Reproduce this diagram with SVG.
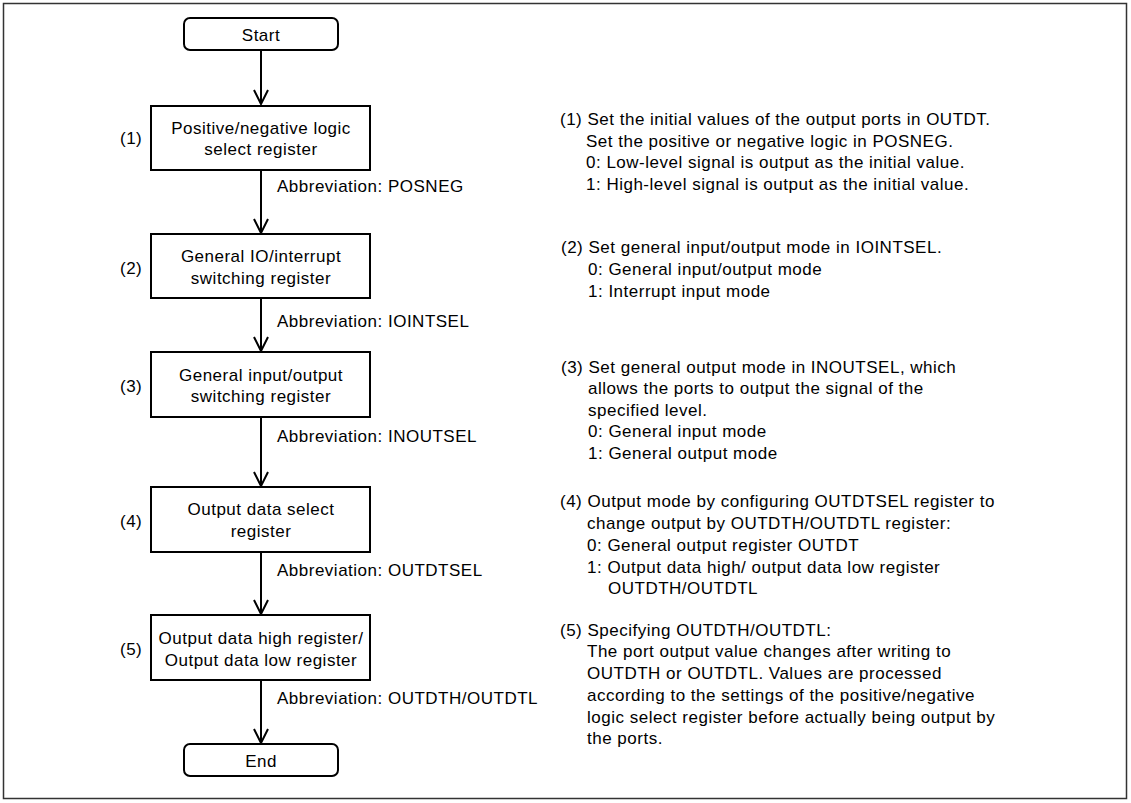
<svg xmlns="http://www.w3.org/2000/svg" width="1131" height="803" viewBox="0 0 1131 803">
  <defs>
    <style>
      text { font-family: "Liberation Sans", Arial, sans-serif; font-size: 17px; letter-spacing: 0.5px; fill: #000; }
      .c { text-anchor: middle; }
      .box { fill: #fff; stroke: #000; stroke-width: 2; }
      .wire { fill: none; stroke: #000; stroke-width: 2; }
      .frame { fill: #fff; stroke: #333; stroke-width: 1.5; }
    </style>
    <marker id="chev" viewBox="0 0 16 16" refX="15" refY="8" markerWidth="16" markerHeight="16" markerUnits="userSpaceOnUse" orient="auto">
      <path d="M1,1 L15,8 L1,15" fill="none" stroke="#000" stroke-width="2"/>
    </marker>
  </defs>

  <rect class="frame" x="3.5" y="3.5" width="1123" height="795"/>

  <!-- connectors -->
  <g id="connectors">
    <line class="wire" x1="261" y1="50" x2="261" y2="104" marker-end="url(#chev)"/>
    <line class="wire" x1="261" y1="170" x2="261" y2="233" marker-end="url(#chev)"/>
    <line class="wire" x1="261" y1="298" x2="261" y2="351" marker-end="url(#chev)"/>
    <line class="wire" x1="261" y1="417" x2="261" y2="486" marker-end="url(#chev)"/>
    <line class="wire" x1="261" y1="552" x2="261" y2="614" marker-end="url(#chev)"/>
    <line class="wire" x1="261" y1="680" x2="261" y2="743" marker-end="url(#chev)"/>
    <text x="277" y="192">Abbreviation: POSNEG</text>
    <text x="277" y="327">Abbreviation: IOINTSEL</text>
    <text x="277" y="442">Abbreviation: INOUTSEL</text>
    <text x="277" y="576">Abbreviation: OUTDTSEL</text>
    <text x="277" y="704">Abbreviation: OUTDTH/OUTDTL</text>
  </g>

  <g id="start">
    <rect class="box" x="184" y="18" width="154" height="32" rx="6"/>
    <text class="c" x="261" y="41">Start</text>
  </g>

  <g id="posneg">
    <rect class="box" x="151" y="106" width="219" height="64"/>
    <text class="c" x="261" y="134">Positive/negative logic</text>
    <text class="c" x="261" y="155">select register</text>
    <text x="120" y="144">(1)</text>
  </g>

  <g id="iointsel">
    <rect class="box" x="151" y="234" width="219" height="64"/>
    <text class="c" x="261" y="262">General IO/interrupt</text>
    <text class="c" x="261" y="284">switching register</text>
    <text x="120" y="274">(2)</text>
  </g>

  <g id="inoutsel">
    <rect class="box" x="151" y="352" width="219" height="65"/>
    <text class="c" x="261" y="381">General input/output</text>
    <text class="c" x="261" y="402">switching register</text>
    <text x="120" y="392">(3)</text>
  </g>

  <g id="outdtsel">
    <rect class="box" x="151" y="487" width="219" height="65"/>
    <text class="c" x="261" y="515">Output data select</text>
    <text class="c" x="261" y="537">register</text>
    <text x="120" y="527">(4)</text>
  </g>

  <g id="outdthl">
    <rect class="box" x="151" y="615" width="219" height="65"/>
    <text class="c" x="261" y="644">Output data high register/</text>
    <text class="c" x="261" y="666">Output data low register</text>
    <text x="120" y="655">(5)</text>
  </g>

  <g id="end">
    <rect class="box" x="184" y="744" width="154" height="32" rx="6"/>
    <text class="c" x="261" y="767">End</text>
  </g>

  <!-- step notes -->
  <g id="notes">
    <text x="560" y="125">(1) Set the initial values of the output ports in OUTDT.</text>
    <text x="586" y="147">Set the positive or negative logic in POSNEG.</text>
    <text x="586" y="168">0: Low-level signal is output as the initial value.</text>
    <text x="586" y="190">1: High-level signal is output as the initial value.</text>

    <text x="561" y="253">(2) Set general input/output mode in IOINTSEL.</text>
    <text x="588" y="275">0: General input/output mode</text>
    <text x="588" y="297">1: Interrupt input mode</text>

    <text x="561" y="373">(3) Set general output mode in INOUTSEL, which</text>
    <text x="588" y="394">allows the ports to output the signal of the</text>
    <text x="588" y="416">specified level.</text>
    <text x="588" y="437">0: General input mode</text>
    <text x="588" y="459">1: General output mode</text>

    <text x="560" y="507">(4) Output mode by configuring OUTDTSEL register to</text>
    <text x="587" y="529">change output by OUTDTH/OUTDTL register:</text>
    <text x="587" y="551">0: General output register OUTDT</text>
    <text x="587" y="573">1: Output data high/ output data low register</text>
    <text x="608" y="594">OUTDTH/OUTDTL</text>

    <text x="560" y="636">(5) Specifying OUTDTH/OUTDTL:</text>
    <text x="587" y="657">The port output value changes after writing to</text>
    <text x="587" y="679">OUTDTH or OUTDTL. Values are processed</text>
    <text x="587" y="701">according to the settings of the positive/negative</text>
    <text x="587" y="723">logic select register before actually being output by</text>
    <text x="587" y="744">the ports.</text>
  </g>
</svg>
